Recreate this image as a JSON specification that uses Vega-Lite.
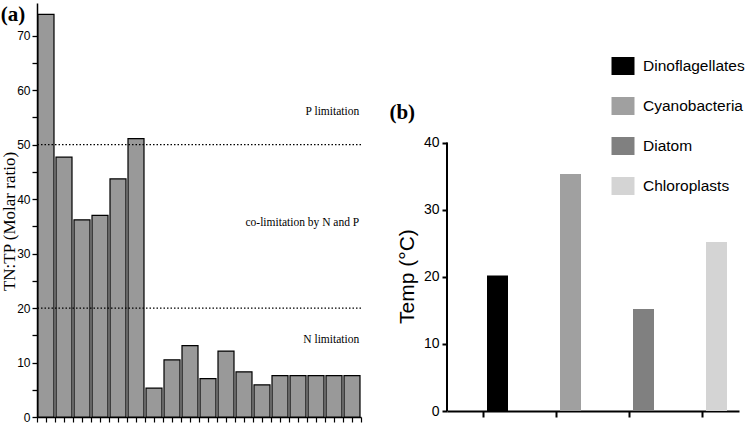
{
  "$schema": "https://vega.github.io/schema/vega-lite/v6.json",
  "padding": {"left": 0, "top": 3, "right": 0, "bottom": 0},
  "spacing": 27,
  "background": "white",
  "resolve": {"scale": {"color": "independent"}, "legend": {"color": "independent"}},
  "config": {
    "view": {"stroke": null},
    "axis": {"domainColor": "black", "tickColor": "black", "labelColor": "black", "titleColor": "black", "grid": false}
  },
  "hconcat": [
    {
      "width": 324,
      "height": 414,
      "title": {"text": "(a)", "anchor": "start", "frame": "bounds", "offset": -22, "font": "Liberation Serif", "fontSize": 21, "fontWeight": "bold", "color": "black"},
      "layer": [
        {
          "data": {"values": [
            {"site": 1, "ratio": 73.9}, {"site": 2, "ratio": 47.7}, {"site": 3, "ratio": 36.2},
            {"site": 4, "ratio": 37.0}, {"site": 5, "ratio": 43.7}, {"site": 6, "ratio": 51.1},
            {"site": 7, "ratio": 5.3}, {"site": 8, "ratio": 10.5}, {"site": 9, "ratio": 13.1},
            {"site": 10, "ratio": 7.05}, {"site": 11, "ratio": 12.1}, {"site": 12, "ratio": 8.3},
            {"site": 13, "ratio": 5.9}, {"site": 14, "ratio": 7.6}, {"site": 15, "ratio": 7.6},
            {"site": 16, "ratio": 7.6}, {"site": 17, "ratio": 7.6}, {"site": 18, "ratio": 7.6}
          ]},
          "mark": {"type": "bar", "width": 16, "fill": "#999999", "stroke": "black", "strokeWidth": 1.2},
          "encoding": {
            "x": {"field": "site", "type": "quantitative",
              "scale": {"domain": [0.5, 18.5], "nice": false, "zero": false, "padding": 0},
              "axis": {"values": [0.5,1,1.5,2,2.5,3,3.5,4,4.5,5,5.5,6,6.5,7,7.5,8,8.5,9,9.5,10,10.5,11,11.5,12,12.5,13,13.5,14,14.5,15,15.5,16,16.5,17,17.5,18,18.5],
                "labels": false, "title": null, "tickSize": 5, "tickWidth": 1.2, "domainWidth": 1.5}},
            "y": {"field": "ratio", "type": "quantitative",
              "scale": {"domain": [0, 76], "nice": false},
              "axis": {"values": [0,5,10,15,20,25,30,35,40,45,50,55,60,65,70],
                "labelExpr": "datum.value % 10 === 0 ? datum.label : ''",
                "labelFont": "Liberation Sans Narrow, Liberation Sans", "labelFontSize": 12, "labelPadding": 2,
                "tickSize": 5, "tickWidth": 1.3, "domainWidth": 1.5,
                "title": "TN:TP (Molar ratio)", "titleFont": "Liberation Serif", "titleFontSize": 17, "titleFontWeight": "normal",
                "titlePadding": -2, "titleY": 218}}
          }
        },
        {
          "data": {"values": [{"limit": 50}, {"limit": 20}]},
          "mark": {"type": "rule", "strokeDash": [1.5, 2], "color": "black", "strokeWidth": 1.3},
          "encoding": {"y": {"field": "limit", "type": "quantitative",
              "axis": {"values": [0,5,10,15,20,25,30,35,40,45,50,55,60,65,70],
                "labelExpr": "datum.value % 10 === 0 ? datum.label : ''",
                "labelFont": "Liberation Sans Narrow, Liberation Sans", "labelFontSize": 12, "labelPadding": 2,
                "tickSize": 5, "tickWidth": 1.3, "domainWidth": 1.5,
                "title": "TN:TP (Molar ratio)", "titleFont": "Liberation Serif", "titleFontSize": 17, "titleFontWeight": "normal",
                "titlePadding": -2, "titleY": 218}}}
        },
        {
          "data": {"values": [
            {"label": "P limitation", "pos": 18.4, "level": 55.9},
            {"label": "co-limitation by N and P", "pos": 18.4, "level": 35.7},
            {"label": "N limitation", "pos": 18.4, "level": 14.2}
          ]},
          "mark": {"type": "text", "align": "right", "baseline": "middle", "font": "Liberation Serif", "fontSize": 11.5, "color": "black"},
          "encoding": {
            "x": {"field": "pos", "type": "quantitative",
              "axis": {"values": [0.5,1,1.5,2,2.5,3,3.5,4,4.5,5,5.5,6,6.5,7,7.5,8,8.5,9,9.5,10,10.5,11,11.5,12,12.5,13,13.5,14,14.5,15,15.5,16,16.5,17,17.5,18,18.5],
                "labels": false, "title": null, "tickSize": 5, "tickWidth": 1.2, "domainWidth": 1.5}},
            "y": {"field": "level", "type": "quantitative",
              "axis": {"values": [0,5,10,15,20,25,30,35,40,45,50,55,60,65,70],
                "labelExpr": "datum.value % 10 === 0 ? datum.label : ''",
                "labelFont": "Liberation Sans Narrow, Liberation Sans", "labelFontSize": 12, "labelPadding": 2,
                "tickSize": 5, "tickWidth": 1.3, "domainWidth": 1.5,
                "title": "TN:TP (Molar ratio)", "titleFont": "Liberation Serif", "titleFontSize": 17, "titleFontWeight": "normal",
                "titlePadding": -2, "titleY": 218}},
            "text": {"field": "label"}
          }
        }
      ]
    },
    {
      "width": 292,
      "height": 408,
      "title": {"text": "(b)", "anchor": "start", "frame": "bounds", "offset": -120, "dx": -7, "font": "Liberation Serif", "fontSize": 21, "fontWeight": "bold", "color": "black"},
      "layer": [
        {
          "data": {"values": [
            {"group": "Dinoflagellates", "temp": 20.2},
            {"group": "Cyanobacteria", "temp": 35.3},
            {"group": "Diatom", "temp": 15.2},
            {"group": "Chloroplasts", "temp": 25.2}
          ]},
          "mark": {"type": "bar", "width": 21, "xOffset": 14},
          "encoding": {
            "x": {"field": "group", "type": "nominal", "sort": null,
              "scale": {"domain": ["Dinoflagellates", "Cyanobacteria", "Diatom", "Chloroplasts"], "paddingInner": 0, "paddingOuter": 0},
              "axis": {"labels": false, "title": null, "tickSize": 6, "tickWidth": 2, "domainWidth": 2}},
            "y": {"field": "temp", "type": "quantitative",
              "scale": {"domain": [0, 60.8], "nice": false},
              "axis": {"values": [0, 10, 20, 30, 40], "domain": false,
                "labelFont": "Liberation Sans Narrow, Liberation Sans", "labelFontSize": 14, "labelPadding": 3,
                "tickSize": 5, "tickWidth": 2,
                "title": "Temp (°C)", "titleFont": "Liberation Sans", "titleFontSize": 21, "titleFontWeight": "normal",
                "titlePadding": 6, "titleY": 273}},
            "color": {"field": "group", "type": "nominal",
              "scale": {"domain": ["Dinoflagellates", "Cyanobacteria", "Diatom", "Chloroplasts"],
                "range": ["#000000", "#a0a0a0", "#808080", "#d4d4d4"]},
              "legend": {"orient": "none", "legendX": 166, "legendY": 53, "title": null, "padding": 0,
                "symbolType": "M-1.15,-0.9L1.15,-0.9L1.15,0.9L-1.15,0.9Z", "symbolSize": 400,
                "symbolStrokeWidth": 0, "symbolOpacity": 1,
                "labelFont": "Liberation Sans", "labelFontSize": 15.5, "labelColor": "black",
                "labelOffset": 10, "rowPadding": 21, "labelLimit": 0}}
          }
        },
        {
          "data": {"values": [{"group": "Dinoflagellates", "lo": 0, "hi": 40}]},
          "mark": {"type": "rule", "color": "black", "strokeWidth": 2},
          "encoding": {
            "x": {"field": "group", "type": "nominal", "sort": null, "bandPosition": 0,
              "axis": {"labels": false, "title": null, "tickSize": 6, "tickWidth": 2, "domainWidth": 2}},
            "y": {"field": "lo", "type": "quantitative",
              "axis": {"values": [0, 10, 20, 30, 40], "domain": false,
                "labelFont": "Liberation Sans Narrow, Liberation Sans", "labelFontSize": 14, "labelPadding": 3,
                "tickSize": 5, "tickWidth": 2,
                "title": "Temp (°C)", "titleFont": "Liberation Sans", "titleFontSize": 21, "titleFontWeight": "normal",
                "titlePadding": 6, "titleY": 273}},
            "y2": {"field": "hi"}
          }
        }
      ]
    }
  ]
}
